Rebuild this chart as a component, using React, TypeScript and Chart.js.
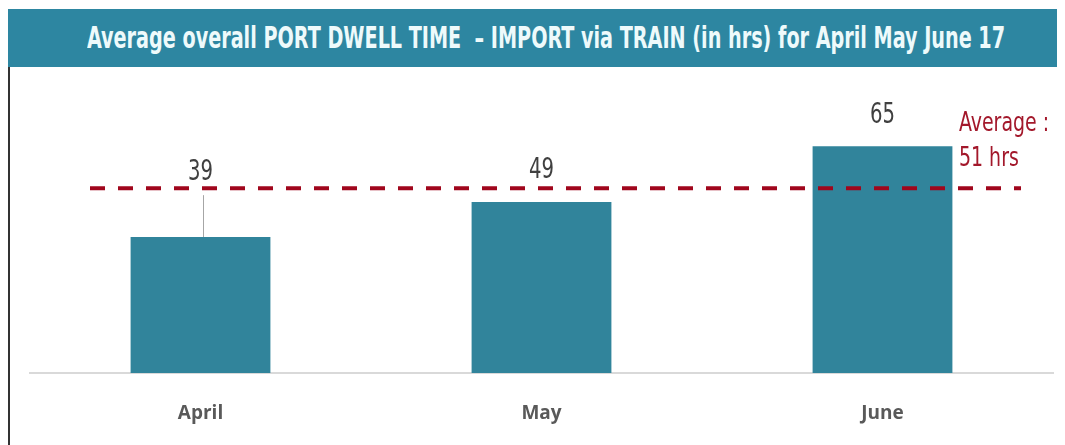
import React, { useEffect, useLayoutEffect, useRef, useState } from "react";
import { Chart, registerables } from "chart.js";

Chart.register(...registerables);

const titleText =
  "Average overall PORT DWELL TIME  \u2013 IMPORT via TRAIN (in hrs) for April May June 17";
const categories = ["April", "May", "June"];
const dwellHours = [39, 49, 65];
const averageLineLevel = 53;
const averageLabelLines = ["Average :", "51 hrs"];
const yMax = 80;

const NARROW = "'Liberation Sans Narrow', 'DejaVu Sans Condensed', 'Arial Narrow', sans-serif";

function squeezedText(ctx: any, text: string, x: number, y: number, k: number) {
  ctx.save();
  ctx.translate(x, y);
  ctx.scale(k, 1);
  ctx.fillText(text, 0, 0);
  ctx.restore();
}

const overlayPlugin = {
  id: "overlay",
  afterDatasetsDraw(chart: any) {
    const { ctx, chartArea, scales } = chart;
    const lineY = scales.y.getPixelForValue(averageLineLevel);
    const meta = chart.getDatasetMeta(0);
    ctx.save();
    // average dashed line
    ctx.strokeStyle = "#a0061c";
    ctx.lineWidth = 4;
    ctx.setLineDash([15, 13]);
    ctx.beginPath();
    ctx.moveTo(chartArea.left + 60, lineY);
    ctx.lineTo(chartArea.right - 32, lineY);
    ctx.stroke();
    ctx.setLineDash([]);

    // data labels
    ctx.font = `28px ${NARROW}`;
    ctx.fillStyle = "#404040";
    ctx.textAlign = "center";
    ctx.textBaseline = "middle";
    meta.data.forEach((bar: any, i: number) => {
      let ly = bar.y - 31;
      if (ly > lineY - 14) {
        ly = lineY - 15;
        ctx.strokeStyle = "#a6a6a6";
        ctx.lineWidth = 1;
        ctx.beginPath();
        ctx.moveTo(bar.x + 3, lineY + 7);
        ctx.lineTo(bar.x + 3, bar.y);
        ctx.stroke();
      }
      squeezedText(ctx, String(dwellHours[i]), bar.x, ly, 0.78);
    });

    // average label
    ctx.font = `27px ${NARROW}`;
    ctx.fillStyle = "#a3182b";
    ctx.textAlign = "left";
    squeezedText(ctx, averageLabelLines[0], chartArea.right - 94, lineY - 64, 0.78);
    squeezedText(ctx, averageLabelLines[1], chartArea.right - 94, lineY - 29, 0.78);
    ctx.restore();
  },
};

export default function App() {
  const ref = useRef<HTMLCanvasElement | null>(null);
  const titleRef = useRef<HTMLSpanElement | null>(null);
  const [titleScale, setTitleScale] = useState(1);

  useLayoutEffect(() => {
    if (titleRef.current) {
      const w = titleRef.current.offsetWidth;
      if (w > 0) setTitleScale(918 / w);
    }
  }, []);

  useEffect(() => {
    if (!ref.current) return;
    const chart = new Chart(ref.current, {
      type: "bar",
      data: {
        labels: categories,
        datasets: [
          {
            data: dwellHours,
            backgroundColor: "#31849b",
            barPercentage: 0.41,
            categoryPercentage: 1,
          },
        ],
      },
      options: {
        animation: false,
        responsive: false,
        devicePixelRatio: 1,
        layout: { padding: { left: 20, right: 12, top: 27, bottom: 0 } },
        plugins: {
          legend: { display: false },
          tooltip: { enabled: false },
          title: { display: false },
        },
        scales: {
          x: {
            grid: { display: false },
            border: { display: true, color: "#d9d9d9", width: 2 },
            ticks: {
              color: "#595959",
              padding: 21,
              font: { family: "'Open Sans', sans-serif", size: 19, weight: "bold" },
            },
            afterFit: (scale: any) => {
              scale.height = 72;
            },
          },
          y: {
            display: false,
            min: 0,
            max: yMax,
          },
        },
      },
      plugins: [overlayPlugin],
    });
    return () => chart.destroy();
  }, []);

  return (
    <div style={{ width: 1057, height: 437, background: "#fff" }}>
      <div
        style={{
          position: "relative",
          height: 58,
          marginTop: 1,
          background: "#2d86a1",
          overflow: "hidden",
        }}
      >
        <span
          ref={titleRef}
          style={{
            position: "absolute",
            left: 79,
            top: 10,
            color: "#eefafb",
            fontFamily: NARROW,
            fontWeight: "bold",
            fontSize: 31,
            lineHeight: "36px",
            whiteSpace: "pre",
            transformOrigin: "left center",
            transform: `scaleX(${titleScale})`,
          }}
        >
          {titleText}
        </span>
      </div>
      <div style={{ borderLeft: "2px solid #333", height: 378, boxSizing: "border-box" }}>
        <canvas ref={ref} width={1055} height={378} style={{ display: "block" }} />
      </div>
    </div>
  );
}
